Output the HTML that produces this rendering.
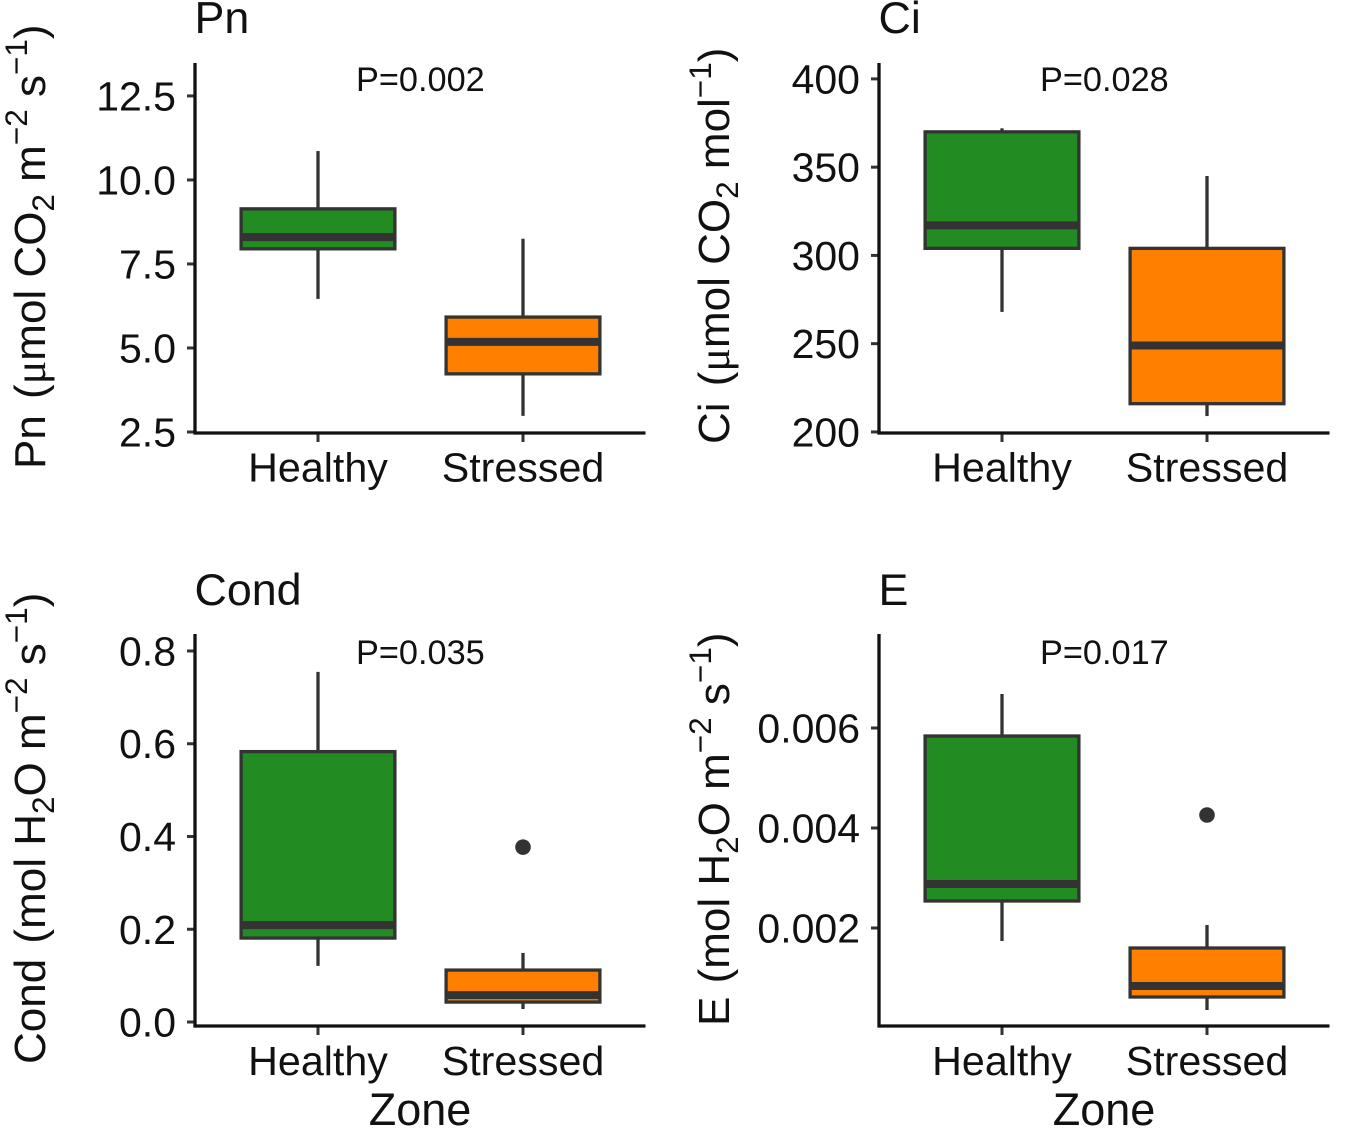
<!DOCTYPE html>
<html lang="en">
<head>
<meta charset="utf-8">
<title>Gas exchange boxplots</title>
<style>
html,body{margin:0;padding:0;background:#fff;}
body{width:1350px;height:1128px;overflow:hidden;}
svg{display:block;font-family:"Liberation Sans",sans-serif;fill:#111;}
.tt{font-size:44.8px;}
.yl{font-size:44px;}
.pv{font-size:34.3px;}
.xt{font-size:45px;text-anchor:middle;}
.sb{font-size:31.5px;}
.mu{font-family:"Liberation Serif",serif;}
</style>
</head>
<body>
<svg id="chart" width="1350" height="1128" viewBox="0 0 1350 1128" xmlns="http://www.w3.org/2000/svg">
  <text class="tt" x="194.5" y="33">Pn</text>
  <text class="tt" x="878.5" y="33">Ci</text>
  <text class="tt" x="194.5" y="605">Cond</text>
  <text class="tt" x="878.5" y="605">E</text>

  <text class="pv" x="356" y="91">P=0.002</text>
  <text class="pv" x="1040" y="91">P=0.028</text>
  <text class="pv" x="356" y="664">P=0.035</text>
  <text class="pv" x="1040" y="664">P=0.017</text>

  <text class="yl" transform="translate(45,469) rotate(-90)">Pn <tspan dx="4">(</tspan><tspan class="mu">μ</tspan>mol CO<tspan class="sb" dy="9">2</tspan><tspan dy="-9"> m</tspan><tspan class="sb" dy="-18">−2</tspan><tspan dy="18"> s</tspan><tspan class="sb" dy="-18">−1</tspan><tspan dy="18">)</tspan></text>
  <text class="yl" transform="translate(729,444) rotate(-90)">Ci <tspan dx="4">(</tspan><tspan class="mu">μ</tspan>mol CO<tspan class="sb" dy="9">2</tspan><tspan dy="-9"> mol</tspan><tspan class="sb" dy="-18">−1</tspan><tspan dy="18">)</tspan></text>
  <text class="yl" transform="translate(45,1064) rotate(-90)">Cond <tspan dx="3">(</tspan>mol H<tspan class="sb" dy="9">2</tspan><tspan dy="-9">O m</tspan><tspan class="sb" dy="-18">−2</tspan><tspan dy="18"> s</tspan><tspan class="sb" dy="-18">−1</tspan><tspan dy="18">)</tspan></text>
  <text class="yl" transform="translate(729,1026) rotate(-90)">E <tspan dx="1">(</tspan>mol H<tspan class="sb" dy="9">2</tspan><tspan dy="-9">O m</tspan><tspan class="sb" dy="-18">−2</tspan><tspan dy="18"> s</tspan><tspan class="sb" dy="-18">−1</tspan><tspan dy="18">)</tspan></text>

  <text class="xt" x="420" y="1125">Zone</text>
  <text class="xt" x="1104" y="1125">Zone</text>
</svg>
<script>
// Shared categories
const categories = ['Healthy', 'Stressed'];
const categoryFills = ['#228B22', '#FF7F00'];

// Pn
const pnTicks = [2.5, 5.0, 7.5, 10.0, 12.5];
const pnTickLabels = ['2.5', '5.0', '7.5', '10.0', '12.5'];
const pnDomain = [2.47, 13.48];
const pnHealthy = [6.46, 7.95, 8.30, 9.14, 10.86];
const pnStressed = [2.98, 4.23, 5.18, 5.92, 8.25];
const pnOutliers = [[], []];

// Ci
const ciTicks = [200, 250, 300, 350, 400];
const ciTickLabels = ['200', '250', '300', '350', '400'];
const ciDomain = [199.4, 409];
const ciHealthy = [268, 304, 317, 370, 372];
const ciStressed = [209, 216, 249, 304, 345];
const ciOutliers = [[], []];

// Cond
const condTicks = [0, 0.2, 0.4, 0.6, 0.8];
const condTickLabels = ['0.0', '0.2', '0.4', '0.6', '0.8'];
const condDomain = [-0.0086, 0.8366];
const condHealthy = [0.121, 0.181, 0.209, 0.583, 0.755];
const condStressed = [0.028, 0.043, 0.058, 0.112, 0.149];
const condOutliers = [[], [0.377]];

// E
const eTicks = [0.002, 0.004, 0.006];
const eTickLabels = ['0.002', '0.004', '0.006'];
const eDomain = [0.00004, 0.00788];
const eHealthy = [0.00174, 0.00254, 0.00288, 0.00584, 0.00668];
const eStressed = [0.00036, 0.00062, 0.00084, 0.0016, 0.00206];
const eOutliers = [[], [0.00426]];

const panels = [
  {id: 'pn', left: 195, top: 63, bottom: 433, labelDrop: 48.5, ticks: pnTicks, labels: pnTickLabels, domain: pnDomain, series: [pnHealthy, pnStressed], outliers: pnOutliers},
  {id: 'ci', left: 879, top: 63, bottom: 433, labelDrop: 48.5, ticks: ciTicks, labels: ciTickLabels, domain: ciDomain, series: [ciHealthy, ciStressed], outliers: ciOutliers},
  {id: 'cond', left: 195, top: 634, bottom: 1026, labelDrop: 49.2, ticks: condTicks, labels: condTickLabels, domain: condDomain, series: [condHealthy, condStressed], outliers: condOutliers},
  {id: 'e', left: 879, top: 634, bottom: 1026, labelDrop: 49.2, ticks: eTicks, labels: eTickLabels, domain: eDomain, series: [eHealthy, eStressed], outliers: eOutliers}
];

const svg = document.getElementById('chart');
const NS = 'http://www.w3.org/2000/svg';
const INK = '#333333';

function make(tag, attrs, parent) {
  const el = document.createElementNS(NS, tag);
  for (const k in attrs) el.setAttribute(k, attrs[k]);
  parent.appendChild(el);
  return el;
}

function yScale(p) {
  return function (v) {
    return p.bottom - (v - p.domain[0]) / (p.domain[1] - p.domain[0]) * (p.bottom - p.top);
  };
}

function xScale(p) {
  return function (i) { return p.left + 123 + i * 205; };
}

function drawPanel(p) {
  const y = yScale(p);
  const x = xScale(p);
  const halfBox = 76.9;

  const g = make('g', {}, svg);
  
  

  // boxes
  categories.forEach(function (cat, i) {
    const s = p.series[i];
    const cx = x(i);
    const box = make('g', {}, g);
    
    

    const whiskerHigh = make('line', {x1: cx, x2: cx, y1: y(s[4]), y2: y(s[3]), stroke: INK, 'stroke-width': 3.3}, box);
    
    

    const whiskerLow = make('line', {x1: cx, x2: cx, y1: y(s[1]), y2: y(s[0]), stroke: INK, 'stroke-width': 3.3}, box);
    
    

    const rect = make('rect', {x: cx - halfBox, y: y(s[3]), width: halfBox * 2, height: y(s[1]) - y(s[3]), fill: categoryFills[i], stroke: INK, 'stroke-width': 3.3}, box);
    
    

    const median = make('line', {x1: cx - halfBox, x2: cx + halfBox, y1: y(s[2]), y2: y(s[2]), stroke: INK, 'stroke-width': 8}, box);
    
    

    p.outliers[i].forEach(function (v) {
      const dot = make('circle', {cx: cx, cy: y(v), r: 7.8, fill: INK}, box);
      
      
    });
  });

  // y ticks
  p.ticks.forEach(function (t, i) {
    const tick = make('line', {x1: p.left - 8, x2: p.left, y1: y(t), y2: y(t), stroke: INK, 'stroke-width': 3}, g);
    
    

    const label = make('text', {x: p.left - 19, y: y(t) + 14.5, 'text-anchor': 'end', 'font-size': 41}, g);
    label.textContent = p.labels[i];
    
    
  });

  // x ticks
  categories.forEach(function (cat, i) {
    const tick = make('line', {x1: x(i), x2: x(i), y1: p.bottom, y2: p.bottom + 9, stroke: INK, 'stroke-width': 3}, g);
    
    

    const label = make('text', {x: x(i), y: p.bottom + p.labelDrop, 'text-anchor': 'middle', 'font-size': 41.2}, g);
    label.textContent = cat;
    
    
  });

  // axis lines
  const yAxis = make('line', {x1: p.left, x2: p.left, y1: p.top, y2: p.bottom + 1.6, stroke: '#111', 'stroke-width': 3.3}, g);
  
  

  const xAxis = make('line', {x1: p.left, x2: p.left + 450.5, y1: p.bottom, y2: p.bottom, stroke: '#111', 'stroke-width': 3.3}, g);
  
  
}

panels.forEach(drawPanel);
</script>
</body>
</html>
